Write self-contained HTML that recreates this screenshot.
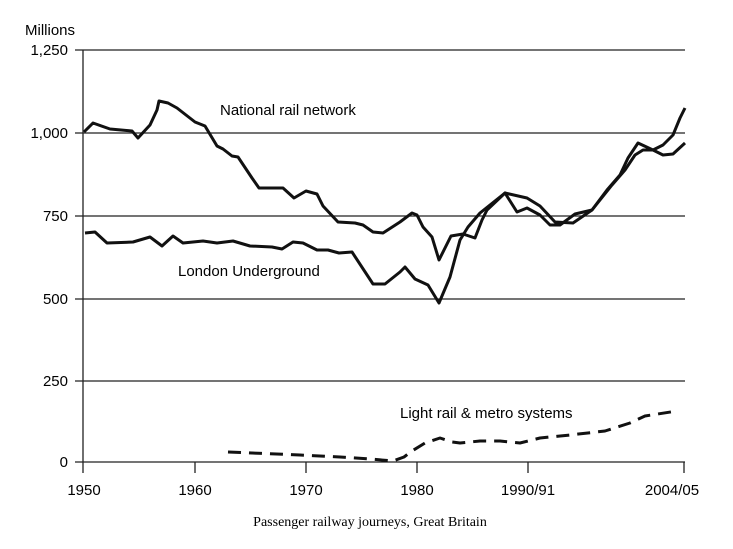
<!DOCTYPE html>
<html><head><meta charset="utf-8"><style>
html,body{margin:0;padding:0;background:#fff;}
svg{display:block;}
</style></head><body>
<svg width="733" height="549" viewBox="0 0 733 549" xmlns="http://www.w3.org/2000/svg">
<g stroke="#222" stroke-width="1.3" fill="none">
<line x1="75" y1="50" x2="685" y2="50"/>
<line x1="75" y1="133" x2="685" y2="133"/>
<line x1="75" y1="216" x2="685" y2="216"/>
<line x1="75" y1="299" x2="685" y2="299"/>
<line x1="75" y1="381" x2="685" y2="381"/>
<line x1="75" y1="462" x2="685" y2="462"/>
<line x1="83" y1="50" x2="83" y2="473"/>
<line x1="195" y1="462" x2="195" y2="473"/>
<line x1="306" y1="462" x2="306" y2="473"/>
<line x1="417" y1="462" x2="417" y2="473"/>
<line x1="528" y1="462" x2="528" y2="473"/>
<line x1="684" y1="462" x2="684" y2="473"/>
</g>
<g font-family="Liberation Sans, sans-serif" font-size="15" fill="#000">
<text x="25" y="35">Millions</text>
<text x="68" y="55" text-anchor="end">1,250</text>
<text x="68" y="138" text-anchor="end">1,000</text>
<text x="68" y="221" text-anchor="end">750</text>
<text x="68" y="304" text-anchor="end">500</text>
<text x="68" y="386" text-anchor="end">250</text>
<text x="68" y="467" text-anchor="end">0</text>
<text x="84" y="495" text-anchor="middle">1950</text>
<text x="195" y="495" text-anchor="middle">1960</text>
<text x="306" y="495" text-anchor="middle">1970</text>
<text x="417" y="495" text-anchor="middle">1980</text>
<text x="528" y="495" text-anchor="middle">1990/91</text>
<text x="672" y="495" text-anchor="middle">2004/05</text>
<text x="220" y="115">National rail network</text>
<text x="178" y="276">London Underground</text>
<text x="400" y="418">Light rail &amp; metro systems</text>
</g>
<text x="370" y="526" text-anchor="middle" font-family="Liberation Serif, serif" font-size="14">Passenger railway journeys, Great Britain</text>
<g stroke="#111" stroke-width="3" fill="none" stroke-linejoin="round">
<polyline points="84,132 93,123 110,129 132,131 138,138 150,125 157,110 159,101 168,103 177,108 195,122 205,126 217,146 223,149 232,156 238,157 252,178 259,188 283,188 294,198 306,191 317,194 323,206 338,222 355,223 363,225 373,232 383,233 400,222 412,213 417,215 423,227 432,237 439,260 451,236 463,234 475,238 482,220 487,210 505,193 517,212 527,208 540,215 550,225 560,225 575,214 592,210 607,190 620,175 628,158 638,143 653,150 663,155 673,154 685,143"/>
<polyline points="85,233 95,232 107,243 133,242 150,237 162,246 173,236 183,243 203,241 217,243 233,241 250,246 272,247 282,249 293,242 303,243 317,250 328,250 339,253 352,252 373,284 385,284 400,272 405,267 415,279 428,285 439,303 450,277 460,240 468,227 480,213 505,193 527,198 540,206 555,222 573,223 592,210 612,185 625,170 635,155 643,150 653,150 663,145 673,135 680,118 685,108"/>
<polyline stroke-dasharray="13,8" points="228,452 300,455 340,457 370,459 393,461 404,457 412,451 425,443 440,438 452,442 460,443 480,441 500,441 520,443 540,438 570,435 605,431 630,423 645,416 677,411"/>
</g>
</svg>
</body></html>
